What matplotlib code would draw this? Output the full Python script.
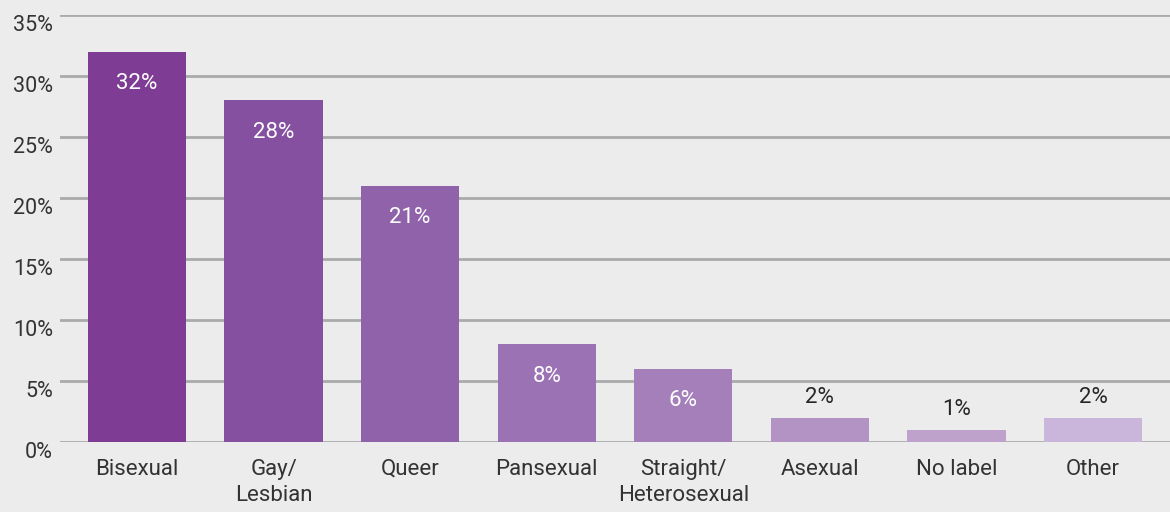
import matplotlib
matplotlib.use("Agg")
import matplotlib.pyplot as plt

categories = ["Bisexual", "Gay/\nLesbian", "Queer", "Pansexual",
              "Straight/\nHeterosexual", "Asexual", "No label", "Other"]
values = [32, 28, 21, 8, 6, 2, 1, 2]
colors = ["#7e3c94", "#8650a0", "#9062aa", "#9b72b3",
          "#a47fba", "#b393c4", "#bea2cc", "#cab6da"]
yticks = [0, 5, 10, 15, 20, 25, 30, 35]

plt.rcParams['font.family'] = ['Roboto', 'DejaVu Sans']
bg = "#ebeceb"

fig = plt.figure(figsize=(11.7, 5.12), dpi=100, facecolor=bg)
ax = fig.add_axes([60/1170, 70/512, 1110/1170, 427/512], facecolor=bg)

x = range(len(categories))
bars = ax.bar(x, values, width=0.72, color=colors, zorder=3)

for b, v in zip(bars, values):
    cx = b.get_x() + b.get_width()/2
    if v >= 5:
        ax.annotate("{}%".format(v), (cx, v), xytext=(0, -32), textcoords="offset pixels",
                    ha="center", va="center", color="white", fontsize=16, zorder=4)
    else:
        ax.annotate("{}%".format(v), (cx, v), xytext=(0, 20), textcoords="offset pixels",
                    ha="center", va="center", color="#262626", fontsize=16, zorder=4)

ax.set_xlim(-0.564, 7.564)
ax.set_ylim(0, 35)
ax.set_yticks(yticks)
ax.set_yticklabels(["{}%".format(t) for t in yticks])
ax.set_xticks(list(x))
ax.set_xticklabels(categories, linespacing=1.35)
ax.tick_params(axis="both", length=0, labelsize=16, labelcolor="#333333")
ax.tick_params(axis="y", pad=5)
ax.tick_params(axis="x", pad=12)
for lbl in ax.get_yticklabels():
    lbl.set_verticalalignment("top")
    lbl.set_fontsize(15.5)

ax.grid(axis="y", color="#a9aaac", linewidth=2, zorder=1)
for s in ax.spines.values():
    s.set_visible(False)

fig.savefig("out.png", dpi=100, facecolor=bg)
